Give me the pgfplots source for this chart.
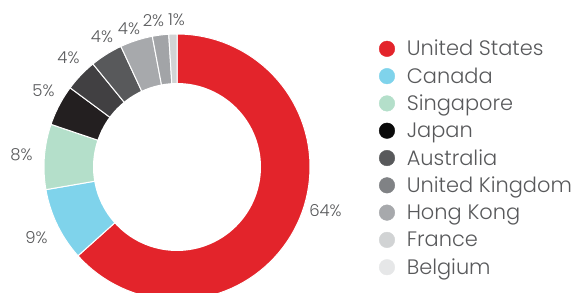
\documentclass[border=0pt]{standalone}
\usepackage{pgfplots}
\pgfplotsset{compat=1.18}
\usepackage{pgfplotstable}
\usepackage{fontspec}
\setmainfont{Poppins Light}
\definecolor{txt}{HTML}{58595B}
% slice colours
\definecolor{cUS}{HTML}{E3242B}
\definecolor{cCA}{HTML}{7FD3EB}
\definecolor{cSG}{HTML}{B4DFCA}
\definecolor{cJP}{HTML}{231F20}
\definecolor{cAU}{HTML}{414042}
\definecolor{cUK}{HTML}{58595B}
\definecolor{cHK}{HTML}{A7A9AC}
\definecolor{cFR}{HTML}{A2A4A7}
\definecolor{cBE}{HTML}{D1D3D4}
% legend colours
\definecolor{lUS}{HTML}{E3242B}
\definecolor{lCA}{HTML}{7FD3EB}
\definecolor{lSG}{HTML}{B4DFCA}
\definecolor{lJP}{HTML}{0A0A0A}
\definecolor{lAU}{HTML}{58595B}
\definecolor{lUK}{HTML}{808285}
\definecolor{lHK}{HTML}{A7A9AC}
\definecolor{lFR}{HTML}{D1D3D4}
\definecolor{lBE}{HTML}{E6E7E8}

% share (%) of each country, clockwise from the top
\pgfplotstableread{
name value
US 64
CA 9
SG 8
JP 5
AU 4
UK 4
HK 4
FR 2
BE 1
}\datatable

\def\cx{177}\def\cy{126}\def\Rout{133}\def\Rin{84}
\def\total{101}
\def\cum{0}
\newcommand\slice[2]{% value, colour
  \pgfmathsetmacro\sa{90-\cum/\total*360}%
  \pgfmathsetmacro\ea{90-(\cum+#1)/\total*360}%
  \edef\doplot{\noexpand\addplot[fill=#2, draw=white, line width=1bp, domain=\sa:\ea, samples=80, variable=\noexpand\t, forget plot]
    ({\cx+\Rout*cos(\noexpand\t)},{\cy+\Rout*sin(\noexpand\t)}) -- (axis cs:\cx,\cy) -- cycle;}%
  \doplot
  \pgfmathsetmacro\newcum{\cum+#1}%
  \global\let\cum\newcum
}

\begin{document}
\begin{tikzpicture}
\begin{axis}[
  at={(0,0)}, anchor=south west,
  width=577bp, height=293bp, scale only axis,
  xmin=0, xmax=577, ymin=0, ymax=293,
  hide axis, clip=true,
  legend cell align=left,
  legend style={at={(axis cs:376,260)}, anchor=north west, draw=none, fill=none,
    font=\fontsize{21}{23}\selectfont\color{txt},
    row sep=0pt, column sep=9bp,
    nodes={minimum height=27.3bp, inner ysep=0pt, inner xsep=3bp}},
  legend image code/.code={\draw[#1, draw=none] plot coordinates {(0.22cm,0cm)};},
]
\pgfplotstablegetelem{0}{value}\of\datatable \slice{\pgfplotsretval}{cUS}
\pgfplotstablegetelem{1}{value}\of\datatable \slice{\pgfplotsretval}{cCA}
\pgfplotstablegetelem{2}{value}\of\datatable \slice{\pgfplotsretval}{cSG}
\pgfplotstablegetelem{3}{value}\of\datatable \slice{\pgfplotsretval}{cJP}
\pgfplotstablegetelem{4}{value}\of\datatable \slice{\pgfplotsretval}{cAU}
\pgfplotstablegetelem{5}{value}\of\datatable \slice{\pgfplotsretval}{cUK}
\pgfplotstablegetelem{6}{value}\of\datatable \slice{\pgfplotsretval}{cHK}
\pgfplotstablegetelem{7}{value}\of\datatable \slice{\pgfplotsretval}{cFR}
\pgfplotstablegetelem{8}{value}\of\datatable \slice{\pgfplotsretval}{cBE}
% donut hole
\addplot[fill=white, draw=none, domain=0:360, samples=120, variable=\t, forget plot]
  ({\cx+\Rin*cos(\t)},{\cy+\Rin*sin(\t)}) -- cycle;

% legend
\addlegendimage{only marks, mark=*, mark size=7.8bp, color=lUS}\addlegendentry{United States}
\addlegendimage{only marks, mark=*, mark size=7.8bp, color=lCA}\addlegendentry{Canada}
\addlegendimage{only marks, mark=*, mark size=7.8bp, color=lSG}\addlegendentry{Singapore}
\addlegendimage{only marks, mark=*, mark size=7.8bp, color=lJP}\addlegendentry{Japan}
\addlegendimage{only marks, mark=*, mark size=7.8bp, color=lAU}\addlegendentry{Australia}
\addlegendimage{only marks, mark=*, mark size=7.8bp, color=lUK}\addlegendentry{United Kingdom}
\addlegendimage{only marks, mark=*, mark size=7.8bp, color=lHK}\addlegendentry{Hong Kong}
\addlegendimage{only marks, mark=*, mark size=7.8bp, color=lFR}\addlegendentry{France}
\addlegendimage{only marks, mark=*, mark size=7.8bp, color=lBE}\addlegendentry{Belgium}

% percentage labels
\begin{scope}[every node/.style={font=\fontsize{16.5}{18}\selectfont, text=txt, inner sep=0pt}]
\node at (axis cs:325.5,82) {64\%};
\node at (axis cs:36.5,55.5) {9\%};
\node at (axis cs:21.5,138) {8\%};
\node at (axis cs:43.5,202.5) {5\%};
\node at (axis cs:68.5,235.5) {4\%};
\node at (axis cs:102,256) {4\%};
\node at (axis cs:129,264.5) {4\%};
\node at (axis cs:153.5,272) {2\%};
\node at (axis cs:176.5,273) {1\%};
\end{scope}
\end{axis}
\pgfresetboundingbox
\path (0,0) rectangle (577bp,293bp);
\end{tikzpicture}
\end{document}
